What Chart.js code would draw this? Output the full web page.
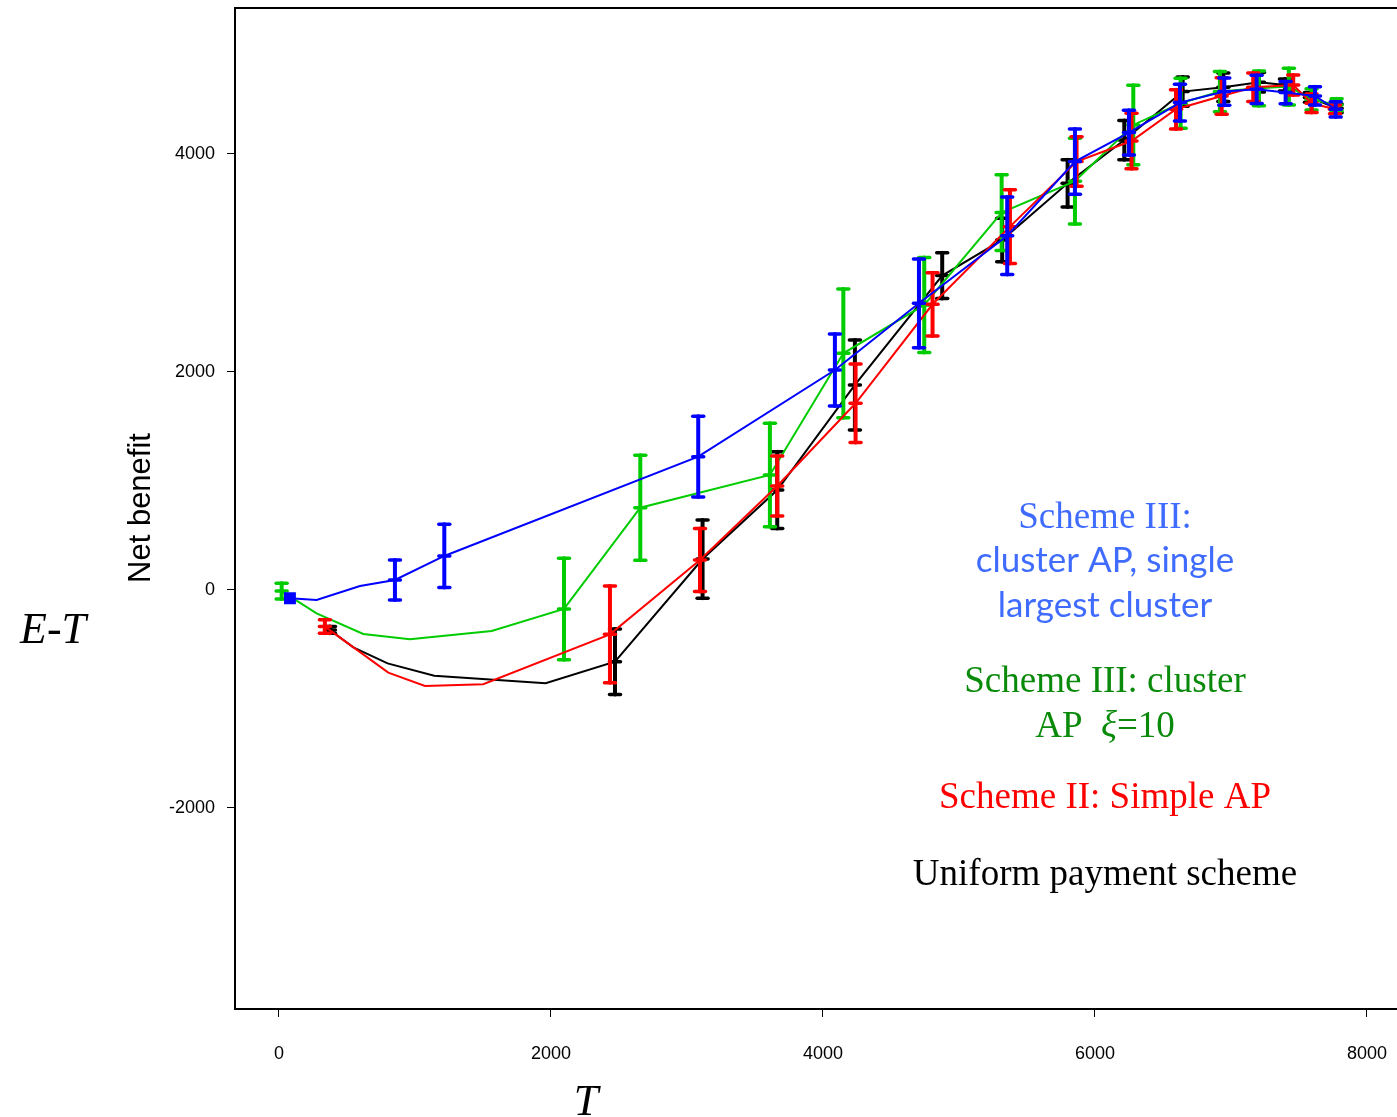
<!DOCTYPE html>
<html>
<head>
<meta charset="utf-8">
<script src="https://cdn.jsdelivr.net/npm/chart.js@4.4.1/dist/chart.umd.min.js"></script>
<style>
  html, body { margin: 0; padding: 0; background: #fff; overflow: hidden; }
  canvas { display: block; }
</style>
</head>
<body>
<canvas id="grafico" width="1397" height="1117"></canvas>
<script>
// dados (T, benefício líquido E-T, meia barra de erro)
const tUniforme = [375, 547, 799, 1142, 1961, 2471, 3115, 3664, 4235, 4877, 5318, 5799, 6216, 6645, 6944, 7206, 7397, 7581, 7777]
const vUniforme = [-367, -526, -673, -786, -856, -658, 284, 917, 1881, 2884, 3211, 3731, 4128, 4572, 4612, 4658, 4633, 4519, 4419]
const eUniforme = [31, 0, 0, 0, 0, 300, 359, 352, 413, 210, 200, 217, 180, 135, 130, 90, 55, 45, 40]

const tSimples = [338, 804, 1074, 1502, 2434, 3096, 3664, 4240, 4806, 5375, 5865, 6269, 6596, 6932, 7164, 7458, 7593, 7765]
const vSimples = [-336, -758, -881, -865, -407, 275, 954, 1713, 2621, 3333, 3930, 4119, 4410, 4532, 4612, 4633, 4465, 4410]
const eSimples = [62, 0, 0, 0, 443, 290, 275, 359, 290, 338, 227, 254, 180, 168, 130, 92, 85, 40]

const tCluster = [20, 277, 620, 963, 1564, 2096, 2657, 3610, 4150, 4745, 5314, 5853, 6282, 6630, 6919, 7206, 7426, 7593, 7777]
const vCluster = [-10, -214, -404, -453, -376, -174, 755, 1055, 2171, 2615, 3462, 3750, 4266, 4465, 4572, 4602, 4618, 4501, 4450]
const eCluster = [72, 0, 0, 0, 0, 466, 482, 474, 590, 436, 347, 393, 364, 230, 184, 160, 168, 97, 57]

const tMaior = [81, 277, 596, 853, 1216, 3083, 4088, 4706, 5355, 5853, 6250, 6625, 6951, 7189, 7402, 7618, 7770]
const vMaior = [-76, -92, 37, 92, 312, 1223, 2018, 2630, 3250, 3930, 4196, 4471, 4572, 4593, 4563, 4532, 4410]
const eMaior = [0, 0, 0, 183, 290, 370, 330, 407, 355, 300, 206, 168, 125, 130, 102, 84, 70]

const ticksX = [0, 2000, 4000, 6000, 8000]
const ticksY = [-2000, 0, 2000, 4000]

const pts = (xs, ys) => xs.map((x, i) => ({ x, y: ys[i] }))

// barras de erro desenhadas pelas escalas do próprio gráfico
const barras = {
  id: 'barras',
  afterDatasetDraw(chart, args) {
    const ds = chart.data.datasets[args.index]
    if (!ds.erro) return
    const c = chart.ctx, sx = chart.scales.x, sy = chart.scales.y
    c.save()
    c.strokeStyle = ds.borderColor
    c.lineCap = 'round'
    ds.data.forEach((p, i) => {
      const e = ds.erro[i]
      if (!e) return
      const px = sx.getPixelForValue(p.x)
      const topo = sy.getPixelForValue(p.y + e)
      const meio = sy.getPixelForValue(p.y)
      const base = sy.getPixelForValue(p.y - e)
      c.lineWidth = 4
      c.beginPath(); c.moveTo(px, topo); c.lineTo(px, base); c.stroke();
      c.lineWidth = 3.5;
      [topo, meio, base].forEach(yy => {
        c.beginPath(); c.moveTo(px - 5.5, yy); c.lineTo(px + 5.5, yy); c.stroke()
      })
    })
    c.restore()
  }
}

// textos soltos: moldura de cima, rótulos dos eixos e anotações
const textos = {
  id: 'textos',
  afterDraw(chart) {
    const c = chart.ctx, a = chart.chartArea
    c.save()
    c.strokeStyle = '#000'
    c.lineWidth = 2
    c.beginPath(); c.moveTo(a.left, a.top); c.lineTo(a.right, a.top); c.stroke()

    c.fillStyle = '#000'
    c.textAlign = 'center'
    c.textBaseline = 'alphabetic'
    c.font = 'italic 44px "Liberation Serif"'
    c.fillText('E-T', 53, 643)
    c.fillText('T', 586, 1115)

    c.save()
    c.translate(150, 508)
    c.rotate(-Math.PI / 2)
    c.font = '31px "Liberation Sans"'
    c.fillText('Net benefit', 0, 0)
    c.restore()

    const cx = 1105
    c.fillStyle = '#3f6cff'
    c.font = '37px "Liberation Serif"'
    c.fillText('Scheme III:', cx, 528)
    c.font = '35px Lato'
    c.fillText('cluster AP, single', cx, 572)
    c.fillText('largest cluster', cx, 617)

    c.fillStyle = '#0a8a0a'
    c.font = '37px "Liberation Serif"'
    c.fillText('Scheme III: cluster', cx, 692)
    const p1 = 'AP  ', p3 = '=10'
    const w1 = c.measureText(p1).width, w3 = c.measureText(p3).width
    c.font = 'italic 37px "Liberation Serif"'
    const w2 = c.measureText('ξ').width
    let x0 = cx - (w1 + w2 + w3) / 2
    c.textAlign = 'left'
    c.font = '37px "Liberation Serif"'
    c.fillText(p1, x0, 737)
    c.font = 'italic 37px "Liberation Serif"'
    c.fillText('ξ', x0 + w1, 737)
    c.font = '37px "Liberation Serif"'
    c.fillText(p3, x0 + w1 + w2, 737)
    c.textAlign = 'center'

    c.fillStyle = '#ff0000'
    c.fillText('Scheme II: Simple AP', cx, 808)
    c.fillStyle = '#000'
    c.fillText('Uniform payment scheme', cx, 885)
    c.restore()
  }
}

const serie = (label, xs, ys, es, cor) => ({
  label,
  data: pts(xs, ys),
  erro: es,
  borderColor: cor,
  backgroundColor: cor,
  borderWidth: 2,
  pointRadius: 0,
  showLine: true,
  fill: false
})

const maior = serie('Scheme III: cluster AP, single largest cluster', tMaior, vMaior, eMaior, '#0000ff')
maior.pointRadius = tMaior.map((_, i) => i === 0 ? 7 : 0)
maior.pointStyle = 'rect'

const data = {
  datasets: [
    maior,
    serie('Scheme II: Simple AP', tSimples, vSimples, eSimples, '#ff0000'),
    serie('Scheme III: cluster AP ξ=10', tCluster, vCluster, eCluster, '#00cc00'),
    serie('Uniform payment scheme', tUniforme, vUniforme, eUniforme, '#000000')
  ]
}

const config = {
  type: 'scatter',
  data,
  plugins: [barras, textos],
  options: {
    responsive: false,
    animation: false,
    layout: { autoPadding: false, padding: { top: 8, right: 0, left: 0, bottom: 0 } },
    plugins: { legend: { display: false }, tooltip: { enabled: false } },
    scales: {
      x: {
        type: 'linear',
        min: -323,
        max: 8221,
        afterBuildTicks: s => { s.ticks = ticksX.map(v => ({ value: v })) },
        afterFit: s => { s.height = 108; s.paddingLeft = 0; s.paddingRight = 0 },
        grid: { drawOnChartArea: false, drawTicks: true, tickLength: 8, color: '#000', lineWidth: 1 },
        border: { display: true, color: '#000', width: 2 },
        ticks: { color: '#000', padding: 26, maxRotation: 0, callback: v => String(v), font: { family: 'Liberation Sans', size: 18 } }
      },
      y: {
        type: 'linear',
        min: -3844,
        max: 5339,
        afterBuildTicks: s => { s.ticks = ticksY.map(v => ({ value: v })) },
        afterFit: s => { s.width = 235; s.paddingTop = 0; s.paddingBottom = 0 },
        grid: { drawOnChartArea: false, drawTicks: true, tickLength: 8, color: '#000', lineWidth: 1 },
        border: { display: true, color: '#000', width: 2 },
        ticks: { color: '#000', padding: 12, callback: v => String(v), font: { family: 'Liberation Sans', size: 18 } }
      }
    }
  }
}

const graph = new Chart(document.getElementById('grafico'), config)
</script>
</body>
</html>
